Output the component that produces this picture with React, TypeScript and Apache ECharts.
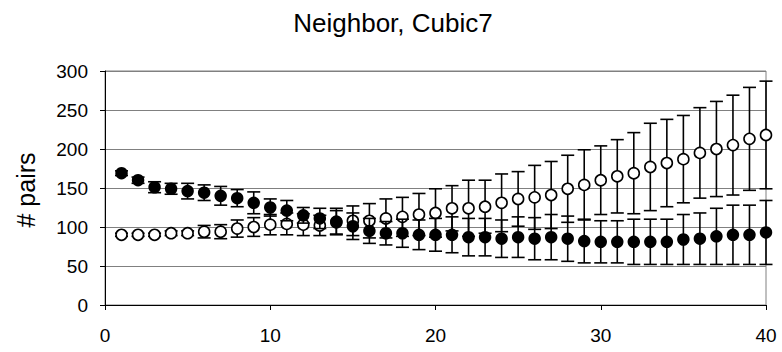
import React, { useEffect, useRef } from "react";
import * as echarts from "echarts";

const titleText = "Neighbor, Cubic7";
const yAxisTitle = "# pairs";
const xValues = [1,2,3,4,5,6,7,8,9,10,11,12,13,14,15,16,17,18,19,20,21,22,23,24,25,26,27,28,29,30,31,32,33,34,35,36,37,38,39,40];
const filledValues = [169,160,151,149,146,144,140,137,131,125,121,115,111,107,101,95,92,92,90,90,90,87,87,85,87,85,87,85,82,81,81,81,81,81,84,85,88,90,90,93];
const filledErrors = [3,4,7,7,10,10,12,11,14,11,13,10,13,17,17,16,15,18,19,21,23,24,24,24,26,27,29,29,28,27,27,29,29,29,32,33,36,38,38,41];
const openValues = [90,90,90,92,92,94,94,98,100,103,104,103,102,106,108,108,111,113,116,118,124,124,126,131,136,138,141,149,154,160,165,169,177,182,187,195,200,205,213,218];
const openErrors = [2,2,2,3,3,8,9,11,12,13,14,14,13,15,19,22,25,25,27,31,29,36,34,37,35,41,43,43,45,44,47,52,56,56,56,58,61,64,66,69];
const yTicks = { min: 0, max: 300, interval: 50 };
const xTicks = { min: 0, max: 40, interval: 10 };

const FONT = '"Liberation Sans", Arial, sans-serif';

function errorData(values: number[], errs: number[]) {
  return xValues.map((x, i) => [x, values[i] - errs[i], values[i] + errs[i]]);
}

function renderError(params: any, api: any) {
  const x = api.value(0);
  const lo = api.coord([x, api.value(1)]);
  const hi = api.coord([x, api.value(2)]);
  const hw = 6.5;
  const style = { stroke: "#000", lineWidth: 1.6 };
  return {
    type: "group",
    children: [
      { type: "line", shape: { x1: hi[0], y1: hi[1], x2: lo[0], y2: lo[1] }, style },
      { type: "line", shape: { x1: hi[0] - hw, y1: hi[1], x2: hi[0] + hw, y2: hi[1] }, style },
      { type: "line", shape: { x1: lo[0] - hw, y1: lo[1], x2: lo[0] + hw, y2: lo[1] }, style },
    ],
  };
}

export default function App() {
  const ref = useRef<HTMLDivElement>(null);
  useEffect(() => {
    if (!ref.current) return;
    const chart = echarts.init(ref.current, null, { renderer: "svg" });
    chart.setOption({
      animation: false,
      backgroundColor: "#fff",
      textStyle: { fontFamily: FONT },
      grid: {
        left: 105, right: 16, top: 71, bottom: 47,
        show: true, borderColor: "#808080", borderWidth: 1,
        outerBoundsMode: "none",
      },
      graphic: [
        {
          type: "text", x: 393, y: 23,
          style: { text: titleText, font: `26px ${FONT}`, fill: "#000", textAlign: "center", textVerticalAlign: "middle" },
        },
        {
          type: "text", x: 26, y: 190, rotation: Math.PI / 2,
          style: { text: yAxisTitle, font: `25px ${FONT}`, fill: "#000", textAlign: "center", textVerticalAlign: "middle" },
        },
      ],
      xAxis: {
        type: "value", min: xTicks.min, max: xTicks.max, interval: xTicks.interval,
        axisLine: { show: true, onZero: false, lineStyle: { color: "#000", width: 1 } },
        axisTick: { show: true, length: 5, lineStyle: { color: "#000" } },
        splitLine: { show: false },
        axisLabel: { fontSize: 19, color: "#000", margin: 21, fontFamily: FONT },
      },
      yAxis: {
        type: "value", min: yTicks.min, max: yTicks.max, interval: yTicks.interval,
        axisLine: { show: true, lineStyle: { color: "#000", width: 1 } },
        axisTick: { show: true, length: 5, lineStyle: { color: "#000" } },
        splitLine: { show: true, lineStyle: { color: "#808080", width: 1 } },
        axisLabel: { fontSize: 19, color: "#000", margin: 17, fontFamily: FONT },
      },
      series: [
        {
          type: "custom", name: "open-err", renderItem: renderError,
          data: errorData(openValues, openErrors), encode: { x: 0, y: [1, 2] }, z: 1, silent: true,
        },
        {
          type: "scatter", name: "open", symbol: "circle", symbolSize: 11,
          data: xValues.map((x, i) => [x, openValues[i]]),
          itemStyle: { color: "#fff", borderColor: "#000", borderWidth: 1.6, opacity: 1 }, z: 2,
        },
        {
          type: "custom", name: "filled-err", renderItem: renderError,
          data: errorData(filledValues, filledErrors), encode: { x: 0, y: [1, 2] }, z: 3, silent: true,
        },
        {
          type: "scatter", name: "filled", symbol: "circle", symbolSize: 12.5,
          data: xValues.map((x, i) => [x, filledValues[i]]),
          itemStyle: { color: "#000", borderWidth: 0, opacity: 1 }, z: 4,
        },
      ],
    });
    return () => chart.dispose();
  }, []);
  return <div ref={ref} style={{ position: "fixed", left: 0, top: 0, width: 782, height: 352 }} />;
}
